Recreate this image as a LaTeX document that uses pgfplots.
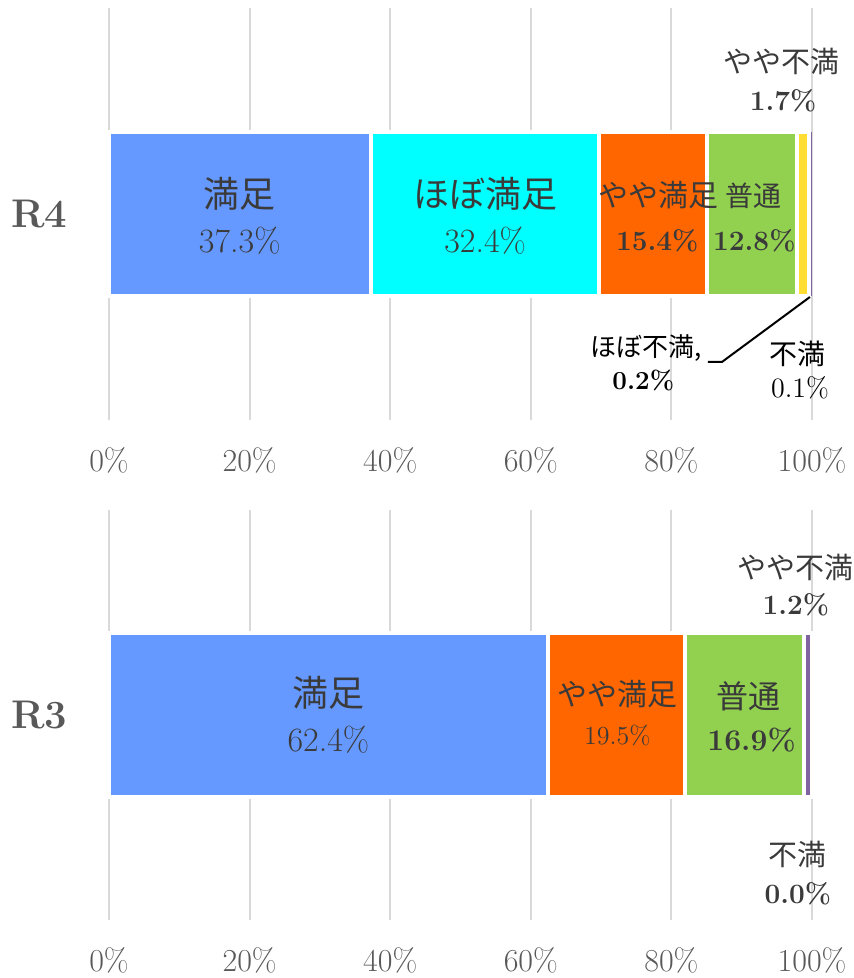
\documentclass[border=0pt]{standalone}
\usepackage{fontspec}
\usepackage{pgfplots}
\pgfplotsset{compat=1.18}
\newfontfamily\jp{Noto Sans CJK JP}
\definecolor{cMan}{HTML}{6699FF}
\definecolor{cHobo}{HTML}{00FFFF}
\definecolor{cYaya}{HTML}{FF6600}
\definecolor{cFutsu}{HTML}{92D050}
\definecolor{cYayaFu}{HTML}{FFDD33}
\definecolor{cHoboFu}{HTML}{F4B183}
\definecolor{cFuman}{HTML}{8064A2}
\definecolor{labc}{HTML}{3A3A3A}
\definecolor{tickc}{HTML}{595959}
\definecolor{gridc}{HTML}{D9D9D9}

\pgfplotsset{
  myax/.style={
    scale only axis, width=351.5pt, anchor=south west,
    xbar stacked, bar width=82pt,
    xmin=0, xmax=100, ymin=-1, ymax=1,
    xtick={0,20,40,60,80,100},
    xticklabels={0\%,20\%,40\%,60\%,80\%,100\%},
    xticklabel style={yshift=-10pt},
    ytick=\empty,
    axis line style={draw=none}, major tick length=0pt,
    xmajorgrids, grid style={color=gridc, line width=1pt},
    ticklabel style={font=\fontsize{16}{19}\selectfont, text=tickc},
    every axis plot/.append style={draw=white, line width=2pt},
    clip=false,
  },
}
\tikzset{
  jpname/.style={font=\jp\fontsize{#1}{#1}\selectfont, text=labc},
  num/.style={font=\fontsize{#1}{#1}\selectfont, text=labc},
  bnum/.style={font=\bfseries\fontsize{#1}{#1}\selectfont, text=labc},
  rlab/.style={font=\bfseries\fontsize{20}{24}\selectfont, text=tickc},
}

\begin{document}
\begin{tikzpicture}
\path[use as bounding box] (0,0) rectangle (427pt,-489pt);

% R4
\begin{axis}[myax, height=206pt, at={(54.5pt,-210pt)}]
\addplot[fill=cMan] coordinates {(37.3,0)};
\addplot[fill=cHobo] coordinates {(32.4,0)};
\addplot[fill=cYaya] coordinates {(15.4,0)};
\addplot[fill=cFutsu] coordinates {(12.8,0)};
\addplot[fill=cYayaFu] coordinates {(1.7,0)};
\addplot[fill=cHoboFu, draw=none] coordinates {(0.2,0)};
\addplot[fill=cFuman, draw=none] coordinates {(0.1,0)};
\coordinate (r4) at (rel axis cs:-0.099,0.5);
\coordinate (a1) at (axis cs:18.6,0.10);
\coordinate (a2) at (axis cs:18.6,-0.13);
\coordinate (b1) at (axis cs:53.5,0.10);
\coordinate (b2) at (axis cs:53.5,-0.13);
\coordinate (c1) at (axis cs:78.2,0.09);
\coordinate (c2) at (axis cs:78.0,-0.13);
\coordinate (d1) at (axis cs:91.7,0.09);
\coordinate (d2) at (axis cs:91.8,-0.13);
\coordinate (e1) at (axis cs:95.7,0.74);
\coordinate (e2) at (axis cs:95.9,0.55);
\coordinate (f1) at (axis cs:76.4,-0.65);
\coordinate (f2) at (axis cs:76.0,-0.81);
\coordinate (g1) at (axis cs:97.9,-0.68);
\coordinate (g2) at (axis cs:98.3,-0.845);
\coordinate (l1) at (axis cs:85.2,-0.718);
\coordinate (l2) at (axis cs:87.2,-0.718);
\coordinate (l3) at (axis cs:99.7,-0.403);
\end{axis}
\node[rlab] at (r4) {R4};
\node[jpname=18] at (a1) {満足};
\node[num=17] at (a2) {37.3\%};
\node[jpname=18] at (b1) {ほぼ満足};
\node[num=17] at (b2) {32.4\%};
\node[jpname=15] at (c1) {やや満足};
\node[bnum=14] at (c2) {15.4\%};
\node[jpname=14] at (d1) {普通};
\node[bnum=14] at (d2) {12.8\%};
\node[jpname=14.5] at (e1) {やや不満};
\node[bnum=14] at (e2) {1.7\%};
\node[jpname=13, text=black] at (f1) {ほぼ不満,};
\node[bnum=13, text=black] at (f2) {0.2\%};
\node[jpname=14, text=black] at (g1) {不満};
\node[num=14, text=black] at (g2) {0.1\%};
\draw[black, line width=1pt] (l1) -- (l2) -- (l3);

% R3
\begin{axis}[myax, height=205pt, at={(54.5pt,-460pt)}]
\addplot[fill=cMan] coordinates {(62.4,0)};
\addplot[fill=cYaya] coordinates {(19.5,0)};
\addplot[fill=cFutsu] coordinates {(16.9,0)};
\addplot[fill=cFuman] coordinates {(1.2,0)};
\addplot[fill=cHoboFu, draw=none] coordinates {(0.0,0)};
\coordinate (r3) at (rel axis cs:-0.099,0.5);
\coordinate (h1) at (axis cs:31.2,0.11);
\coordinate (h2) at (axis cs:31.2,-0.12);
\coordinate (i1) at (axis cs:72.3,0.10);
\coordinate (i2) at (axis cs:72.3,-0.10);
\coordinate (j1) at (axis cs:90.9,0.09);
\coordinate (j2) at (axis cs:91.4,-0.12);
\coordinate (k1) at (axis cs:97.7,0.72);
\coordinate (k2) at (axis cs:97.7,0.54);
\coordinate (m1) at (axis cs:97.9,-0.68);
\coordinate (m2) at (axis cs:98.0,-0.87);
\end{axis}
\node[rlab] at (r3) {R3};
\node[jpname=18] at (h1) {満足};
\node[num=17] at (h2) {62.4\%};
\node[jpname=15] at (i1) {やや満足};
\node[num=13] at (i2) {19.5\%};
\node[jpname=16] at (j1) {普通};
\node[bnum=15] at (j2) {16.9\%};
\node[jpname=14.5] at (k1) {やや不満};
\node[bnum=14] at (k2) {1.2\%};
\node[jpname=14.5] at (m1) {不満};
\node[bnum=14] at (m2) {0.0\%};
\end{tikzpicture}
\end{document}
